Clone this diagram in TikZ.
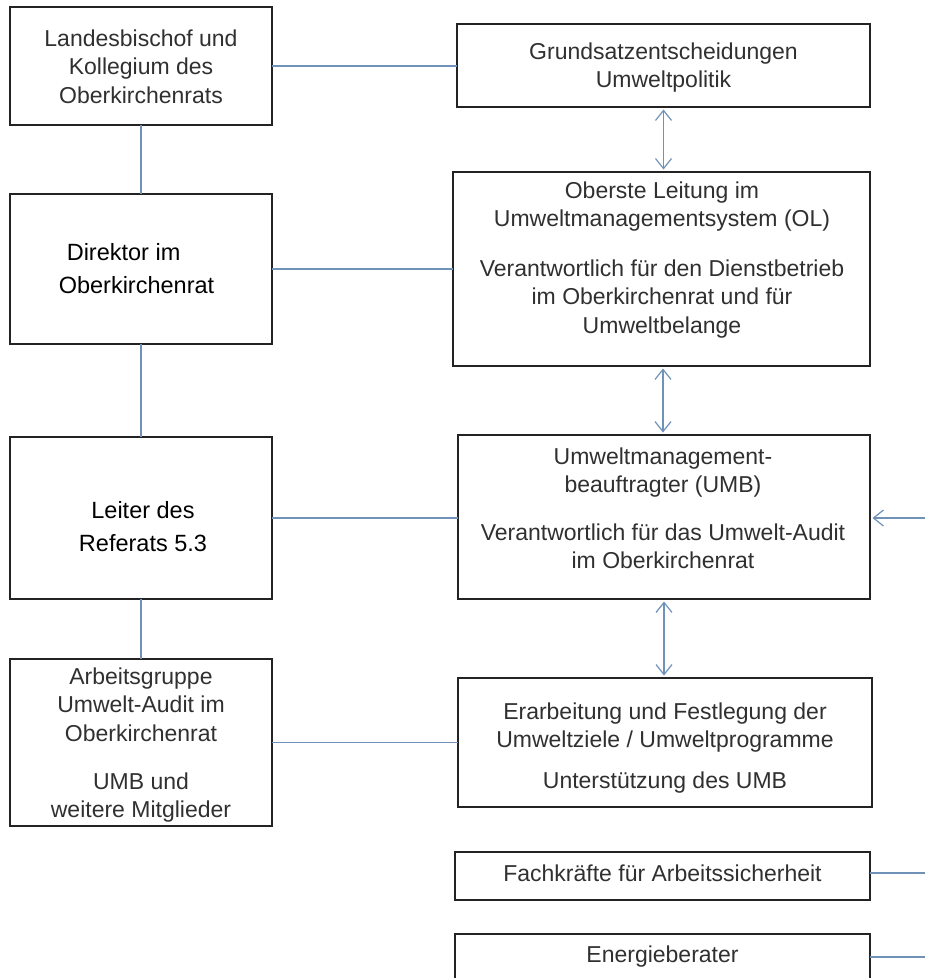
\documentclass[tikz,border=0pt]{standalone}
\usepackage{fontspec}
\setmainfont{Liberation Sans}
\usetikzlibrary{arrows.meta}
\definecolor{conn}{RGB}{112,146,184}
\definecolor{frame}{RGB}{35,35,35}
\definecolor{txtgray}{RGB}{48,48,48}
\tikzset{
  box/.style={draw=frame, line width=1.7pt, fill=white, inner sep=0pt, outer sep=0pt},
  txt/.style={text=txtgray, align=center, inner sep=0pt, font=\fontsize{23pt}{28.5pt}\selectfont},
  txtb/.style={text=black, inner sep=0pt, font=\fontsize{23.5pt}{33pt}\selectfont},
  conn/.style={draw=conn, line width=1.2pt},
  barb/.tip={Straight Barb[length=10pt,width=16pt,line width=1.2pt]},
  dbl/.style={conn, barb-barb, shorten <=2.5pt, shorten >=2.5pt},
}
\begin{document}
\begin{tikzpicture}[x=1pt,y=-1pt]
\useasboundingbox (0,0) rectangle (925,978);
\fill[white] (0,0) rectangle (925,978);
\clip (0,0) rectangle (925,978);

% left column
\node[box, minimum width=262pt, minimum height=118pt] (L1) at (141,66) {};
\node[box, minimum width=262pt, minimum height=150pt] (L2) at (141,269) {};
\node[box, minimum width=262pt, minimum height=162pt] (L3) at (141,518) {};
\node[box, minimum width=262pt, minimum height=167pt] (L4) at (141,742.5) {};

% right column
\node[box, minimum width=413pt, minimum height=83pt]  (R1) at (663.5,65.5) {};
\node[box, minimum width=417pt, minimum height=194pt] (R2) at (661.5,269) {};
\node[box, minimum width=412pt, minimum height=164pt] (R3) at (664,517) {};
\node[box, minimum width=414pt, minimum height=129pt] (R4) at (665,742.5) {};
\node[box, minimum width=415pt, minimum height=48pt]  (R5) at (662.5,876) {};
\node[box, minimum width=415pt, minimum height=66pt]  (R6) at (662.5,967) {};

% texts
\node[txt] (L1t) at (141,66.5) {Landesbischof und\\Kollegium des\\Oberkirchenrats};
\node[txtb, align=left] (L2t) at (136.5,268.5) {\hspace*{8pt}Direktor im\\Oberkirchenrat};
\node[txtb, align=center] (L3t) at (143,526.5) {Leiter des\\Referats 5.3};
\node[txt] (L4t) at (141,745) {Arbeitsgruppe\\Umwelt-Audit im\\Oberkirchenrat\\[19.5pt]UMB und\\weitere Mitglieder};

\node[txt] (R1t) at (663.5,67.5) {Grundsatzentscheidungen\\Umweltpolitik};
\node[txt] (R2t) at (662,260) {Oberste Leitung im\\Umweltmanagementsystem (OL)\\[21pt]Verantwortlich für den Dienstbetrieb\\im Oberkirchenrat und für\\Umweltbelange};
\node[txt] (R3t) at (663,508.5) {Umweltmanagement-\\beauftragter (UMB)\\[19pt]Verantwortlich für das Umwelt-Audit\\im Oberkirchenrat};
\node[txt] (R4t) at (665,748) {Erarbeitung und Festlegung der\\Umweltziele / Umweltprogramme\\[12pt]Unterstützung des UMB};
\node[txt] (R5t) at (662.5,873) {Fachkräfte für Arbeitssicherheit};
\node[txt] (R6t) at (662.5,957) {Energieberater};

% left vertical connectors
\draw[conn] (L1.south) -- (L2.north);
\draw[conn] (L2.south) -- (L3.north);
\draw[conn] (L3.south) -- (L4.north);

% horizontal connectors
\draw[conn] (L1.east) -- (L1.east -| R1.west);
\draw[conn] (L2.east) -- (L2.east -| R2.west);
\draw[conn] (L3.east) -- (L3.east -| R3.west);
\draw[conn] (L4.east) -- (L4.east -| R4.west);

% double arrows in right column
\draw[dbl] (R1.south) -- (R1.south |- R2.north);
\draw[dbl] ([xshift=1.5pt]R2.south) -- ([xshift=1.5pt]R2.south |- R3.north);
\draw[dbl] (R3.south) -- (R3.south |- R4.north);

% right edge connectors
\coordinate (e3) at (925,518);
\coordinate (e5) at (925,873);
\coordinate (e6) at (925,957);
\draw[conn, -barb, shorten >=2.5pt] (e3) -- (e3 -| R3.east);
\draw[conn] (e5 -| R5.east) -- (e5);
\draw[conn] (e6 -| R6.east) -- (e6);
\end{tikzpicture}
\end{document}
